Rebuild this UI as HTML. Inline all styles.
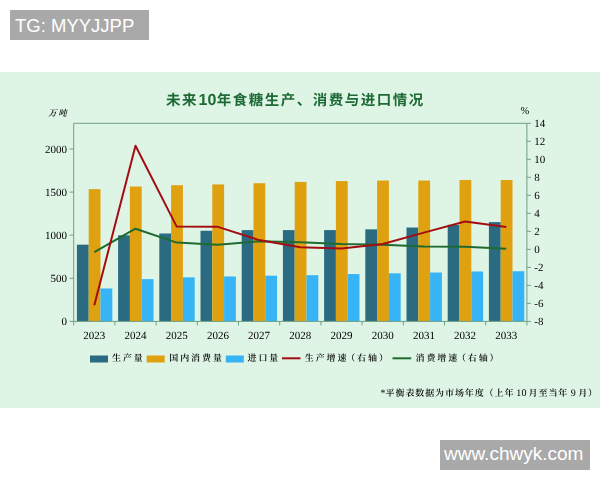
<!DOCTYPE html>
<html lang="zh-CN">
<head>
<meta charset="utf-8">
<title>未来10年食糖生产、消费与进口情况</title>
<style>
html,body{margin:0;padding:0;background:#fff;}
body{width:600px;height:480px;position:relative;overflow:hidden;font-family:"Liberation Sans", "Noto Sans CJK SC", sans-serif;}
.tag{position:absolute;overflow:hidden;background:#a9a9a9;color:#fff;font-family:"Liberation Sans", "Noto Sans CJK SC", sans-serif;white-space:nowrap;}
#tg{left:10px;top:10px;width:139px;height:29.5px;line-height:31px;font-size:18.5px;text-indent:5px;}
#wm{left:439.5px;top:440px;width:150.5px;height:29.5px;line-height:28px;font-size:19px;text-indent:4.5px;}
</style>
</head>
<body>
<svg width="640" height="480" viewBox="-20 0 640 480" style="position:absolute;left:-20px;top:0;display:block;filter:blur(0.3px)" text-rendering="geometricPrecision">
<rect x="-20" y="72" width="640" height="336" fill="#def4e5"/>
<rect x="76.9" y="244.68" width="11.8" height="76.72" fill="#2a6b81"/>
<rect x="88.7" y="189.17" width="11.8" height="132.23" fill="#dfa110"/>
<rect x="100.5" y="288.47" width="11.8" height="32.93" fill="#36b4f6"/>
<rect x="118.1" y="235.29" width="11.8" height="86.11" fill="#2a6b81"/>
<rect x="129.9" y="186.5" width="11.8" height="134.9" fill="#dfa110"/>
<rect x="141.7" y="279.16" width="11.8" height="42.24" fill="#36b4f6"/>
<rect x="159.3" y="233.48" width="11.8" height="87.92" fill="#2a6b81"/>
<rect x="171.1" y="185.2" width="11.8" height="136.2" fill="#dfa110"/>
<rect x="182.9" y="277.35" width="11.8" height="44.05" fill="#36b4f6"/>
<rect x="200.5" y="230.8" width="11.8" height="90.6" fill="#2a6b81"/>
<rect x="212.3" y="184.43" width="11.8" height="136.97" fill="#dfa110"/>
<rect x="224.1" y="276.49" width="11.8" height="44.91" fill="#36b4f6"/>
<rect x="241.7" y="230.11" width="11.8" height="91.29" fill="#2a6b81"/>
<rect x="253.5" y="183.22" width="11.8" height="138.18" fill="#dfa110"/>
<rect x="265.3" y="275.71" width="11.8" height="45.69" fill="#36b4f6"/>
<rect x="282.9" y="230.11" width="11.8" height="91.29" fill="#2a6b81"/>
<rect x="294.7" y="181.93" width="11.8" height="139.47" fill="#dfa110"/>
<rect x="306.5" y="275.2" width="11.8" height="46.2" fill="#36b4f6"/>
<rect x="324.1" y="230.11" width="11.8" height="91.29" fill="#2a6b81"/>
<rect x="335.9" y="181.07" width="11.8" height="140.33" fill="#dfa110"/>
<rect x="347.7" y="274.08" width="11.8" height="47.32" fill="#36b4f6"/>
<rect x="365.3" y="229.34" width="11.8" height="92.06" fill="#2a6b81"/>
<rect x="377.1" y="180.55" width="11.8" height="140.85" fill="#dfa110"/>
<rect x="388.9" y="273.3" width="11.8" height="48.1" fill="#36b4f6"/>
<rect x="406.5" y="227.53" width="11.8" height="93.87" fill="#2a6b81"/>
<rect x="418.3" y="180.55" width="11.8" height="140.85" fill="#dfa110"/>
<rect x="430.1" y="272.52" width="11.8" height="48.88" fill="#36b4f6"/>
<rect x="447.7" y="224.86" width="11.8" height="96.54" fill="#2a6b81"/>
<rect x="459.5" y="180.03" width="11.8" height="141.37" fill="#dfa110"/>
<rect x="471.3" y="271.49" width="11.8" height="49.91" fill="#36b4f6"/>
<rect x="488.9" y="222.1" width="11.8" height="99.3" fill="#2a6b81"/>
<rect x="500.7" y="180.03" width="11.8" height="141.37" fill="#dfa110"/>
<rect x="512.5" y="271.23" width="11.8" height="50.17" fill="#36b4f6"/>
<g fill="none" stroke="#6f9f84" stroke-width="1">
<path d="M73.7 321.4 V123.3 H526.9 V321.4 Z"/>
<path d="M69.7 321.4 H73.7"/>
<path d="M69.7 278.3 H73.7"/>
<path d="M69.7 235.2 H73.7"/>
<path d="M69.7 192.1 H73.7"/>
<path d="M69.7 149 H73.7"/>
<path d="M526.9 321.4 H530.9"/>
<path d="M526.9 303.39 H530.9"/>
<path d="M526.9 285.38 H530.9"/>
<path d="M526.9 267.37 H530.9"/>
<path d="M526.9 249.36 H530.9"/>
<path d="M526.9 231.35 H530.9"/>
<path d="M526.9 213.35 H530.9"/>
<path d="M526.9 195.34 H530.9"/>
<path d="M526.9 177.33 H530.9"/>
<path d="M526.9 159.32 H530.9"/>
<path d="M526.9 141.31 H530.9"/>
<path d="M526.9 123.3 H530.9"/>
<path d="M73.7 321.4 V325.4"/>
<path d="M114.9 321.4 V325.4"/>
<path d="M156.1 321.4 V325.4"/>
<path d="M197.3 321.4 V325.4"/>
<path d="M238.5 321.4 V325.4"/>
<path d="M279.7 321.4 V325.4"/>
<path d="M320.9 321.4 V325.4"/>
<path d="M362.1 321.4 V325.4"/>
<path d="M403.3 321.4 V325.4"/>
<path d="M444.5 321.4 V325.4"/>
<path d="M485.7 321.4 V325.4"/>
<path d="M526.9 321.4 V325.4"/>
</g>
<polyline points="94.3,252.06 135.5,228.74 176.7,242.61 217.9,244.86 259.1,241.35 300.3,242.16 341.5,244.05 382.7,244.86 423.9,246.48 465.1,246.75 506.3,248.82" fill="none" stroke="#1f6b2f" stroke-width="2" stroke-linejoin="round" stroke-linecap="butt"/>
<polyline points="94.3,305.19 135.5,145.81 176.7,226.58 217.9,226.85 259.1,240.09 300.3,247.29 341.5,248.55 382.7,244.05 423.9,232.62 465.1,221.45 506.3,227.03" fill="none" stroke="#a30d12" stroke-width="2" stroke-linejoin="round" stroke-linecap="butt"/>
<g font-family='"Liberation Serif", "Noto Serif CJK SC", serif' font-size="11" fill="#000">
<text x="67" y="325.3" text-anchor="end">0</text>
<text x="67" y="282.2" text-anchor="end">500</text>
<text x="67" y="239.1" text-anchor="end">1000</text>
<text x="67" y="196" text-anchor="end">1500</text>
<text x="67" y="152.9" text-anchor="end">2000</text>
<text x="534.3" y="325.1">-8</text>
<text x="534.3" y="307.09">-6</text>
<text x="534.3" y="289.08">-4</text>
<text x="534.3" y="271.07">-2</text>
<text x="534.3" y="253.06">0</text>
<text x="534.3" y="235.05">2</text>
<text x="534.3" y="217.05">4</text>
<text x="534.3" y="199.04">6</text>
<text x="534.3" y="181.03">8</text>
<text x="534.3" y="163.02">10</text>
<text x="534.3" y="145.01">12</text>
<text x="534.3" y="127">14</text>
<text x="94.3" y="339.2" text-anchor="middle">2023</text>
<text x="135.5" y="339.2" text-anchor="middle">2024</text>
<text x="176.7" y="339.2" text-anchor="middle">2025</text>
<text x="217.9" y="339.2" text-anchor="middle">2026</text>
<text x="259.1" y="339.2" text-anchor="middle">2027</text>
<text x="300.3" y="339.2" text-anchor="middle">2028</text>
<text x="341.5" y="339.2" text-anchor="middle">2029</text>
<text x="382.7" y="339.2" text-anchor="middle">2030</text>
<text x="423.9" y="339.2" text-anchor="middle">2031</text>
<text x="465.1" y="339.2" text-anchor="middle">2032</text>
<text x="506.3" y="339.2" text-anchor="middle">2033</text>
<text x="520.6" y="113.8" font-size="10.5">%</text>
</g>
<text x="48.2" y="115.6" font-family='"Liberation Serif", "Noto Serif CJK SC", serif' font-size="8.5" font-weight="600" font-style="italic" fill="#000" letter-spacing="1.6">万吨</text>
<text x="166" y="104.8" font-family='"Liberation Sans", "Noto Sans CJK SC", sans-serif' font-size="14.5" letter-spacing="1.5" font-weight="700" fill="#1d6a35"><tspan x="166">未来</tspan><tspan x="198.6" font-size="16" letter-spacing="0">10</tspan><tspan x="216.8">年食糖生产、消费与进口情况</tspan></text>
<rect x="90" y="355.5" width="18" height="7" fill="#2a6b81"/>
<rect x="146.7" y="355.5" width="18" height="7" fill="#dfa110"/>
<rect x="225.8" y="355.5" width="18" height="7" fill="#36b4f6"/>
<path d="M282 358.3 H300.5" stroke="#a30d12" stroke-width="2"/>
<path d="M392.5 358.3 H411.2" stroke="#1f6b2f" stroke-width="2"/>
<g font-family='"Liberation Serif", "Noto Serif CJK SC", serif' font-size="9" font-weight="600" fill="#000" letter-spacing="1.9">
<text x="112" y="361.3">生产量</text>
<text x="169.3" y="361.3">国内消费量</text>
<text x="247.5" y="361.3">进口量</text>
<text x="304.8" y="361.3">生产增速<tspan dx="-2.2">（</tspan>右轴）</text>
<text x="415.5" y="361.3">消费增速<tspan dx="-2.2">（</tspan>右轴）</text>
</g>
<text y="395.5" font-family='"Liberation Serif", "Noto Serif CJK SC", serif' font-size="9" font-weight="600" fill="#000" letter-spacing="0.9"><tspan x="380.4" font-weight="400" font-size="10">*</tspan><tspan x="385.6">平衡表数据为市场年度（上年</tspan><tspan x="516.2" font-weight="400" font-size="10" letter-spacing="0.3">10</tspan><tspan x="528.6">月至当年</tspan><tspan x="570.8" font-weight="400" font-size="10">9</tspan><tspan x="578.2">月）</tspan></text>
</svg>
<div class="tag" id="tg">TG: MYYJJPP</div>
<div class="tag" id="wm">www.chwyk.com</div>
</body>
</html>
